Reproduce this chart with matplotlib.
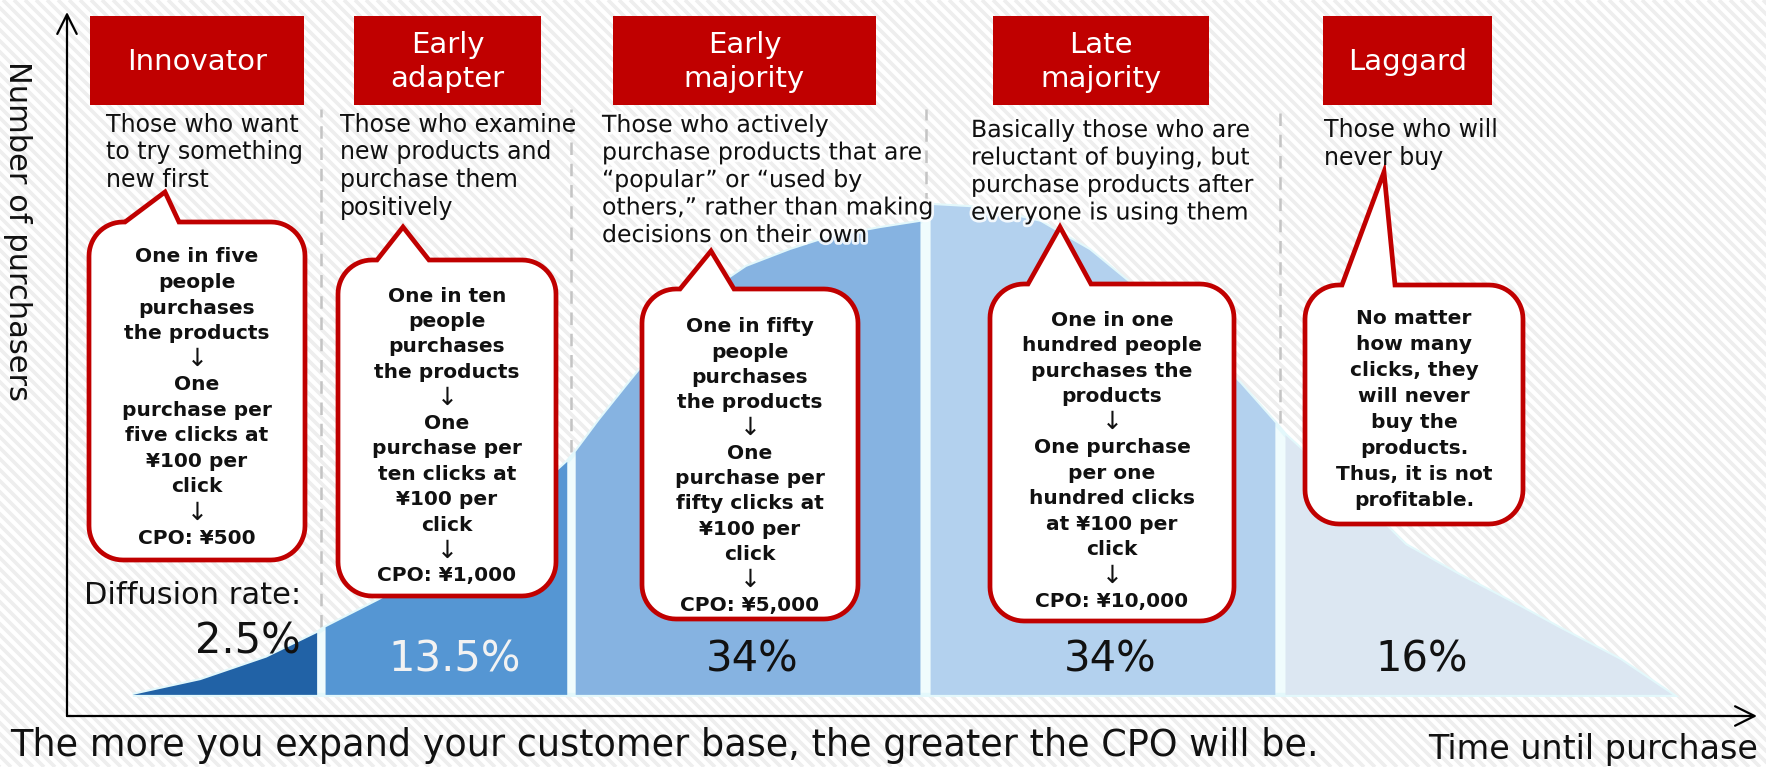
import numpy as np
import matplotlib
matplotlib.use("Agg")
import matplotlib.pyplot as plt
from matplotlib.patches import Polygon, Rectangle
from matplotlib.collections import LineCollection
import matplotlib.patheffects as pe

plt.rcParams['font.family'] = ['DejaVu Sans']

# ---------------- data ----------------
categories = ["Innovator", "Early\nadapter", "Early\nmajority", "Late\nmajority", "Laggard"]
diffusion_rates = ["2.5%", "13.5%", "34%", "34%", "16%"]
descriptions = [
    ["Those who want", "to try something", "new first"],
    ["Those who examine", "new products and", "purchase them", "positively"],
    ["Those who actively", "purchase products that are", "\u201cpopular\u201d or \u201cused by",
     "others,\u201d rather than making", "decisions on their own"],
    ["Basically those who are", "reluctant of buying, but", "purchase products after",
     "everyone is using them"],
    ["Those who will", "never buy"],
]
bubble_texts = [
    ["One in five", "people", "purchases", "the products", "\u2193", "One", "purchase per",
     "five clicks at", "\u00a5100 per", "click", "\u2193", "CPO: \u00a5500"],
    ["One in ten", "people", "purchases", "the products", "\u2193", "One", "purchase per",
     "ten clicks at", "\u00a5100 per", "click", "\u2193", "CPO: \u00a51,000"],
    ["One in fifty", "people", "purchases", "the products", "\u2193", "One", "purchase per",
     "fifty clicks at", "\u00a5100 per", "click", "\u2193", "CPO: \u00a55,000"],
    ["One in one", "hundred people", "purchases the", "products", "\u2193", "One purchase",
     "per one", "hundred clicks", "at \u00a5100 per", "click", "\u2193", "CPO: \u00a510,000"],
    ["No matter", "how many", "clicks, they", "will never", "buy the", "products.",
     "Thus, it is not", "profitable."],
]
y_label = "Number of purchasers"
x_label = "Time until purchase"
footer = "The more you expand your customer base, the greater the CPO will be."
rate_label = "Diffusion rate:"

# curve outline of each adopter segment (time %, purchasers %)
seg1_x = [3.9, 7.9, 11.8, 14.8]
seg1_y = [3.0, 5.1, 8.3, 11.8]
seg2_x = [15.3, 18.5, 22.7, 26.8, 29.6]
seg2_y = [12.6, 16.5, 22.4, 30.0, 36.1]
seg3_x = [30.1, 31.5, 33.4, 35.1, 37.3, 40.2, 42.8, 45.0, 48.1, 50.5]
seg3_y = [37.5, 42.0, 47.7, 52.7, 59.1, 63.8, 66.2, 67.9, 69.3, 70.2]
seg4_x = [51.1, 54.0, 57.6, 60.5, 64.1, 67.0, 69.4, 71.5]
seg4_y = [72.6, 72.2, 70.2, 66.2, 59.1, 53.1, 47.3, 41.6]
seg5_x = [72.1, 74.7, 77.3, 79.2, 82.4, 86.0, 88.3, 91.9, 95.0]
seg5_y = [39.9, 34.2, 28.8, 24.3, 20.0, 15.5, 12.5, 8.0, 3.0]
baseline = 3.0

segments_x = [seg1_x, seg2_x, seg3_x, seg4_x, seg5_x]
segments_y = [seg1_y, seg2_y, seg3_y, seg4_y, seg5_y]
seg_colors = ["#2162a6", "#5596d3", "#86b3e1", "#b3d1ee", "#dce7f2"]

# ---------------- figure ----------------
W, H, DPI = 1766, 767, 100
fig = plt.figure(figsize=(W / DPI, H / DPI), dpi=DPI)
fig.patch.set_facecolor("white")

# striped background
bg = fig.add_axes([0, 0, 1, 1], zorder=-10)
bg.set_xlim(0, W); bg.set_ylim(H, 0); bg.axis("off")
offs = np.arange(-H, W + 20, 11)
bg.add_collection(LineCollection([[(o, 0), (o + H, H)] for o in offs],
                                 colors="#eeeeee", linewidths=2.6))

# chart axes (pixel frame of the axis arrows)
AX_L, AX_R, AX_T, AX_B = 67, 1757, 12, 716
ax = fig.add_axes([AX_L / W, 1 - AX_B / H, (AX_R - AX_L) / W, (AX_B - AX_T) / H], zorder=1)
ax.set_xlim(0, 100); ax.set_ylim(0, 100)
ax.patch.set_alpha(0)
for s in ax.spines.values():
    s.set_visible(False)
ax.set_xticks([]); ax.set_yticks([])

# halo / gaps
all_x = np.concatenate(segments_x); all_y = np.concatenate(segments_y)
hull = np.column_stack([np.r_[all_x[0], all_x, all_x[-1]], np.r_[baseline, all_y, baseline]])
ax.add_patch(Polygon(hull, closed=True, fc="#f0fcfd", ec="#e3f8fb", lw=3, zorder=1))
for sx, sy, c in zip(segments_x, segments_y, seg_colors):
    poly = np.column_stack([np.r_[sx[0], sx, sx[-1]], np.r_[baseline, sy, baseline]])
    ax.add_patch(Polygon(poly, closed=True, fc=c, ec="none", zorder=2))

# dashed separators
sep_top = (AX_B - 109) / (AX_B - AX_T) * 100
for i in range(len(segments_x) - 1):
    b = (segments_x[i][-1] + segments_x[i + 1][0]) / 2
    bot = max(segments_y[i][-1], segments_y[i + 1][0])
    ax.plot([b, b], [bot, sep_top], ls=(0, (5, 3.5)), color="#c4c4c4", lw=1.8, zorder=0.5)

# axis arrows
akw = dict(arrowstyle="->,head_length=1.4,head_width=0.7", lw=1.6, color="black",
           shrinkA=0, shrinkB=0, mutation_scale=10)
ax.annotate("", xy=(0, 1), xytext=(0, 0), xycoords="axes fraction", arrowprops=akw,
            annotation_clip=False)
ax.annotate("", xy=(1, 0), xytext=(0, 0), xycoords="axes fraction", arrowprops=akw,
            annotation_clip=False)

# overlay for annotations (pixel coords)
ov = fig.add_axes([0, 0, 1, 1], zorder=3)
ov.set_xlim(0, W); ov.set_ylim(H, 0); ov.axis("off")
ov.patch.set_alpha(0)

RED = "#C00000"
box_x = [(90, 304), (354, 541), (613, 876), (993, 1209), (1323, 1492)]
for (x0, x1), cat in zip(box_x, categories):
    ov.add_patch(Rectangle((x0, 16), x1 - x0, 89, fc=RED, ec="none"))
    ov.text((x0 + x1) / 2, 62, cat, color="white", fontsize=21, ha="center", va="center",
            linespacing=1.28)

desc_pos = [(106, 125), (340, 125), (602, 125), (971, 130), (1324, 130)]
glow = [None, None, [pe.withStroke(linewidth=4, foreground="white", alpha=0.85)],
        [pe.withStroke(linewidth=4, foreground="white", alpha=0.85)], None]
for (x, y), lines, g in zip(desc_pos, descriptions, glow):
    for i, ln in enumerate(lines):
        t = ov.text(x, y + i * 27.5, ln, fontsize=17, ha="left", va="center", color="#111111")
        if g:
            t.set_path_effects(g)


def bubble(x0, y0, x1, y1, bl, br, tx, ty, r=34):
    pts = [(bl, y0), (tx, ty), (br, y0)]
    def arc(cx, cy, a0, a1):
        t = np.radians(np.linspace(a0, a1, 16))
        return list(zip(cx + r * np.cos(t), cy + r * np.sin(t)))
    pts += arc(x1 - r, y0 + r, -90, 0)
    pts += arc(x1 - r, y1 - r, 0, 90)
    pts += arc(x0 + r, y1 - r, 90, 180)
    pts += arc(x0 + r, y0 + r, 180, 270)
    ov.add_patch(Polygon(pts, closed=True, fc="white", ec=RED, lw=3.4, joinstyle="miter"))


bubbles = [
    (89, 222, 305, 560, 125, 179, 165, 192),
    (338, 260, 556, 596, 377, 429, 403, 227),
    (642, 289, 858, 619, 680, 734, 711, 251),
    (990, 284, 1234, 621, 1028, 1091, 1060, 227),
    (1305, 285, 1523, 524, 1342, 1395, 1384, 172),
]
bubble_text_y = [(257, 538), (296, 576), (327, 605), (320, 601), (319, 500)]
for bb, lines, (ya, yb) in zip(bubbles, bubble_texts, bubble_text_y):
    bubble(*bb)
    cx = (bb[0] + bb[2]) / 2
    step = (yb - ya) / (len(lines) - 1)
    for i, ln in enumerate(lines):
        if ln == "\u2193":
            ov.text(cx, ya + i * step, ln, fontsize=18, ha="center", va="center",
                    color="#111111")
        else:
            ov.text(cx, ya + i * step, ln, fontsize=14.5, fontweight="bold", ha="center",
                    va="center", color="#111111")

# diffusion rates
ov.text(84, 595, rate_label, fontsize=22, ha="left", va="center", color="#111111")
rate_pos = [(248, 641), (455, 660), (752, 660), (1110, 660), (1422, 660)]
rate_col = ["#111111", "#f2f2f2", "#111111", "#111111", "#111111"]
for (x, y), r, c in zip(rate_pos, diffusion_rates, rate_col):
    ov.text(x, y, r, fontsize=30, ha="center", va="center", color=c)

# axis labels and footer
ov.text(17, 231, y_label, fontsize=22, rotation=270, ha="center", va="center", color="#111111")
ov.text(1593, 750, x_label, fontsize=24, ha="center", va="center", color="#111111")
ov.text(10, 745, footer, fontsize=26.4, ha="left", va="center", color="#111111")

fig.savefig("out.png", dpi=DPI)
